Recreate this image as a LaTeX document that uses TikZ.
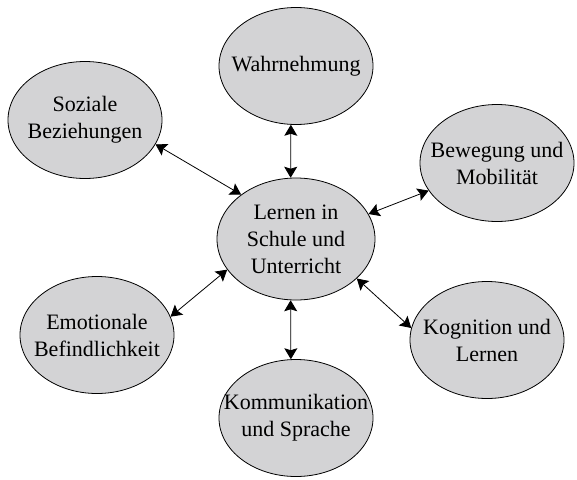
\documentclass[tikz,border=0pt]{standalone}
\usepackage{fontspec}
\setmainfont{Liberation Serif}
\usetikzlibrary{shapes.geometric,arrows.meta}
\definecolor{bubblegray}{RGB}{211,211,213}

\begin{document}
\begin{tikzpicture}[x=1pt, y=-1pt,
    bubble/.style={shape=ellipse, draw=black, fill=bubblegray, line width=0.8pt,
      minimum width=154pt, minimum height=117pt, inner sep=-22pt, align=center,
      font=\fontsize{22}{27}\selectfont},
    link/.style={{Stealth[length=11pt,width=13pt,inset=2pt]}-{Stealth[length=11pt,width=13pt,inset=2pt]}, line width=0.8pt}]
    \useasboundingbox (0,0) rectangle (577,479);
    \node[bubble] (Wahr) at (296, 66) {Wahrnehmung};
    \node[bubble] (Soz) at (85, 120) {Soziale\\Beziehungen};
    \node[bubble] (Bew) at (497, 163) {Bewegung und\\Mobilität};
    \node[bubble, minimum width=158pt, minimum height=122pt] (Mid) at (296, 239) {Lernen in\\Schule und\\Unterricht};
    \node[bubble] (Emo) at (97, 335) {Emotionale\\Befindlichkeit};
    \node[bubble] (Kog) at (487, 340) {Kognition und\\Lernen};
    \node[bubble] (Kom) at (296, 418) {Kommunikation\\und Sprache};
    \path[link] (Wahr.-95) edge (Mid.95);
    \path[link] (Soz.-19) edge (Mid.141);
    \path[link] (Bew.202) edge (Mid.19);
    \path[link] (Emo.14) edge (Mid.204);
    \path[link] (Kog.171) edge (Mid.-33);
    \path[link] (Kom.95) edge (Mid.-95);
  \end{tikzpicture}
\end{document}
